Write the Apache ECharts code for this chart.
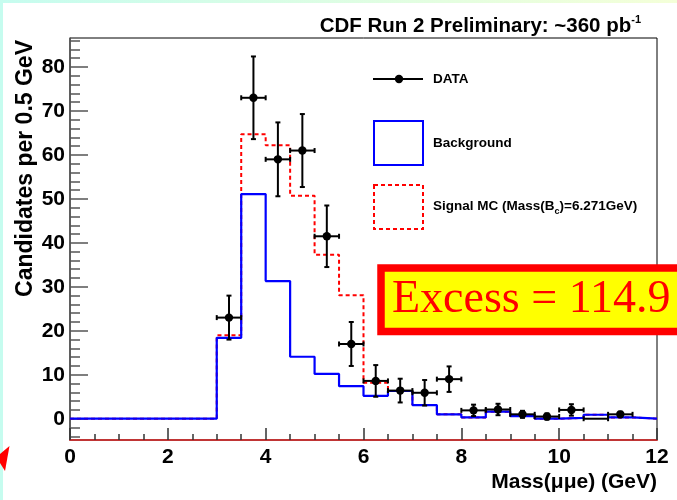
<!DOCTYPE html>
<html>
<head>
<meta charset="utf-8">
<script src="https://cdn.jsdelivr.net/npm/echarts@6/dist/echarts.min.js"></script>
<style>
  html, body { margin: 0; padding: 0; background: #fff; }
  #chart { width: 677px; height: 500px; }
</style>
</head>
<body>
<div id="chart"></div>
<script>
// 0.5 GeV bins, lower edges
const binLow = [0, 0.5, 1, 1.5, 2, 2.5, 3, 3.5, 4, 4.5, 5, 5.5,
  6, 6.5, 7, 7.5, 8, 8.5, 9, 9.5, 10, 10.5, 11, 11.5]
const binHigh = 12
const background = [0, 0, 0, 0, 0, 0, 18.4, 51.1, 31.3, 14.1, 10.2, 7.4,
  5.2, 6.3, 3.1, 1.0, 0.3, 1.6, 0.6, 0, 0.2, 0.9, 0.3, 0]
const signalMC = [0, 0, 0, 0, 0, 0, 19.0, 64.7, 62.2, 50.7, 37.3, 28.1,
  8.2, 6.3, 3.1, 1.0, 0.3, 1.6, 0.6, 0, 0.2, 0.9, 0.3, 0]

// data points: bin centre, count, error
const dataMass = [3.25, 3.75, 4.25, 4.75, 5.25, 5.75, 6.25, 6.75, 7.25,
  7.75, 8.25, 8.75, 9.25, 9.75, 10.25, 10.75, 11.25]
const dataCount = [23.0, 73.0, 59.0, 61.0, 41.5, 17.0, 8.6, 6.4, 5.9,
  9.0, 1.9, 2.1, 1.0, 0.5, 2.0, 0, 1.0]
const dataErr = [5.0, 9.4, 8.4, 8.3, 7.0, 5.0, 3.6, 2.7, 2.9,
  2.9, 1.3, 1.3, 0.8, 0.7, 1.3, 0, 0.6]
const dataXErr = 0.25

const yMajor = [0, 10, 20, 30, 40, 50, 60, 70, 80]
const yMinor = [-4, -2, 2, 4, 6, 8, 12, 14, 16, 18, 22, 24, 26, 28, 32, 34, 36, 38,
  42, 44, 46, 48, 52, 54, 56, 58, 62, 64, 66, 68, 72, 74, 76, 78, 82, 84, 86]

const yMin = -4.84
const yMax = 86.6
const font = 'Liberation Sans, Arial, Helvetica, sans-serif'

function histPoints(vals) {
  let pts = binLow.map((x, i) => [x, vals[i]])
  pts.push([binHigh, vals[vals.length - 1]])
  return pts
}

let chart = echarts.init(document.getElementById('chart'))

let option = {
  animation: false,
  grid: {
    left: 70,
    right: 20,
    top: 38,
    bottom: 60,
    show: true,
    borderColor: '#000',
    borderWidth: 1,
  },
  xAxis: {
    type: 'value',
    min: 0,
    max: 12,
    interval: 2,
    axisLine: { show: true, onZero: false, lineStyle: { color: '#c03535', width: 2 } },
    axisTick: { inside: true, length: 12, lineStyle: { color: '#333', width: 1.5 } },
    minorTick: { show: true, splitNumber: 4, length: 6, lineStyle: { color: '#333', width: 1.5 } },
    axisLabel: { color: '#000', fontFamily: font, fontWeight: 'bold', fontSize: 21, margin: 7 },
    splitLine: { show: false },
  },
  yAxis: [
    {
      type: 'value',
      position: 'left',
      min: yMin,
      max: yMax,
      axisLine: { show: true, lineStyle: { color: '#555', width: 1.5 } },
      axisTick: { show: true, inside: true, length: 18, customValues: yMajor, lineStyle: { color: '#555', width: 1.5 } },
      axisLabel: { customValues: yMajor, color: '#000', fontFamily: font, fontWeight: 'bold', fontSize: 21, margin: 5 },
      splitLine: { show: false },
    },
    {
      type: 'value',
      position: 'left',
      min: yMin,
      max: yMax,
      axisLine: { show: false },
      axisTick: { show: true, inside: true, length: 10, customValues: yMinor, lineStyle: { color: '#555', width: 1.5 } },
      axisLabel: { show: false },
      splitLine: { show: false },
    },
  ],
  series: [
    {
      name: 'Signal MC',
      type: 'line',
      step: 'end',
      symbol: 'none',
      z: 2,
      data: histPoints(signalMC),
      lineStyle: { color: '#ff0000', width: 2, type: [4, 3] },
    },
    {
      name: 'Background',
      type: 'line',
      step: 'end',
      symbol: 'none',
      z: 3,
      data: histPoints(background),
      lineStyle: { color: '#0000ff', width: 2.2 },
    },
    {
      name: 'DATA',
      type: 'custom',
      z: 4,
      data: dataMass.map((m, i) => [m, dataCount[i], dataErr[i]]),
      renderItem(params, api) {
        let x = api.value(0)
        let y = api.value(1)
        let e = api.value(2)
        let c = api.coord([x, y])
        let l = api.coord([x - dataXErr, y])
        let r = api.coord([x + dataXErr, y])
        let t = api.coord([x, y + e])
        let b = api.coord([x, y - e])
        let st = { stroke: '#000', lineWidth: 2 }
        let cap = 2.5
        let kids = [
          { type: 'line', shape: { x1: l[0], y1: c[1], x2: r[0], y2: c[1] }, style: st },
          { type: 'line', shape: { x1: l[0], y1: c[1] - cap, x2: l[0], y2: c[1] + cap }, style: st },
          { type: 'line', shape: { x1: r[0], y1: c[1] - cap, x2: r[0], y2: c[1] + cap }, style: st },
        ]
        if (e > 0) {
          kids.push(
            { type: 'line', shape: { x1: c[0], y1: t[1], x2: c[0], y2: b[1] }, style: st },
            { type: 'line', shape: { x1: c[0] - cap, y1: t[1], x2: c[0] + cap, y2: t[1] }, style: st },
            { type: 'line', shape: { x1: c[0] - cap, y1: b[1], x2: c[0] + cap, y2: b[1] }, style: st },
          )
        }
        if (y > 0) {
          kids.push({ type: 'circle', shape: { cx: c[0], cy: c[1], r: 4.2 }, style: { fill: '#000' } })
        }
        return { type: 'group', children: kids }
      },
    },
  ],
  graphic: [
    // page border bits
    { type: 'rect', z: 50, shape: { x: 0, y: 0, width: 3, height: 500 }, style: { fill: '#c6fcef' } },
    {
      type: 'rect', z: 50, shape: { x: 0, y: 0, width: 677, height: 3 },
      style: {
        fill: new echarts.graphic.LinearGradient(0, 0, 1, 0, [
          { offset: 0, color: '#c6fcef' },
          { offset: 1, color: '#f4ffd8' },
        ]),
      },
    },
    { type: 'polygon', z: 50, shape: { points: [[9.5, 446], [0, 454], [0, 463], [5, 471]] }, style: { fill: '#ff0000' } },
    // title
    {
      type: 'text', z: 50, x: 641, y: 26,
      style: {
        text: 'CDF Run 2 Preliminary: ~360 pb{sup|-1}',
        align: 'right', verticalAlign: 'middle',
        font: 'bold 20.5px ' + font, fill: '#000',
        rich: { sup: { fontSize: 11, fontWeight: 'bold', fontFamily: font, verticalAlign: 'top', lineHeight: 23 } },
      },
    },
    // axis titles
    {
      type: 'text', z: 50, x: 26, y: 40, rotation: Math.PI / 2,
      style: { text: 'Candidates per 0.5 GeV', align: 'right', verticalAlign: 'middle', font: 'bold 23px ' + font, fill: '#000' },
    },
    {
      type: 'text', z: 50, x: 657, y: 482,
      style: { text: 'Mass(μμe) (GeV)', align: 'right', verticalAlign: 'middle', font: 'bold 21px ' + font, fill: '#000' },
    },
    // legend
    { type: 'line', z: 50, shape: { x1: 373, y1: 79, x2: 423, y2: 79 }, style: { stroke: '#000', lineWidth: 2 } },
    { type: 'circle', z: 50, shape: { cx: 399, cy: 79, r: 4.2 }, style: { fill: '#000' } },
    { type: 'text', z: 50, x: 433, y: 79, style: { text: 'DATA', verticalAlign: 'middle', font: 'bold 13.5px ' + font, fill: '#000' } },
    { type: 'rect', z: 50, shape: { x: 374, y: 121, width: 49, height: 44 }, style: { fill: 'none', stroke: '#0000ff', lineWidth: 2 } },
    { type: 'text', z: 50, x: 433, y: 143, style: { text: 'Background', verticalAlign: 'middle', font: 'bold 13.5px ' + font, fill: '#000' } },
    { type: 'rect', z: 50, shape: { x: 374, y: 185, width: 49, height: 44 }, style: { fill: 'none', stroke: '#ff0000', lineWidth: 2, lineDash: [4, 3] } },
    {
      type: 'text', z: 50, x: 433, y: 206,
      style: {
        text: 'Signal MC (Mass(B{sub|c})=6.271GeV)', verticalAlign: 'middle',
        font: 'bold 13.5px ' + font, fill: '#000',
        rich: { sub: { fontSize: 9, fontWeight: 'bold', fontFamily: font, verticalAlign: 'bottom', lineHeight: 20 } },
      },
    },
    // excess box
    { type: 'rect', z: 60, shape: { x: 381, y: 268, width: 320, height: 63.5 }, style: { fill: '#ffff00', stroke: '#ff0000', lineWidth: 7.5 } },
    {
      type: 'text', z: 61, x: 392, y: 300,
      style: { text: 'Excess = 114.9', verticalAlign: 'middle', font: '46px Liberation Serif, Times New Roman, serif', fill: '#ff0000' },
    },
  ],
}

option && chart.setOption(option)
</script>
</body>
</html>
